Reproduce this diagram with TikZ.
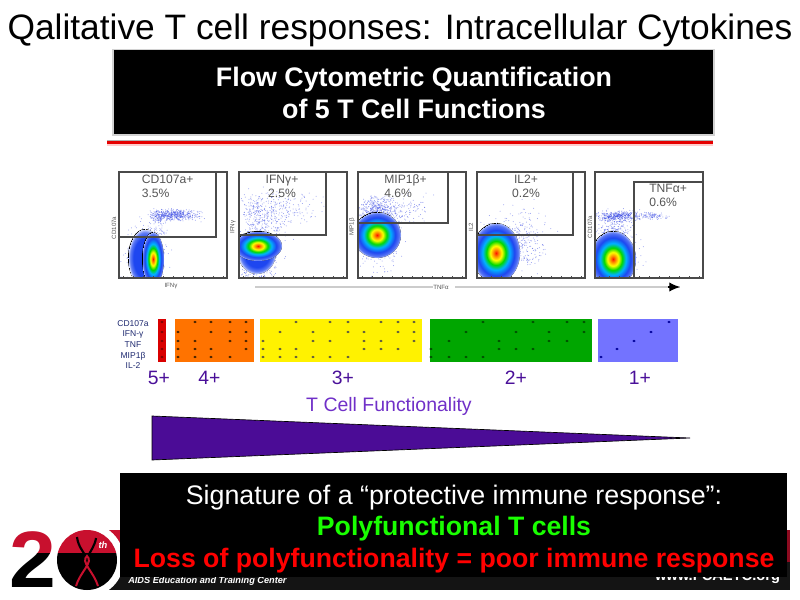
\documentclass[tikz,border=0pt]{standalone}
\usepackage{fontspec}
\setmainfont{Liberation Sans}
\usetikzlibrary{arrows.meta}
\definecolor{plotline}{HTML}{4A4A4A}
\definecolor{plottext}{HTML}{555555}
\definecolor{dotblue}{HTML}{2A3CE0}
\definecolor{rowtext}{HTML}{1F2A70}
\definecolor{plustext}{HTML}{4A1099}
\definecolor{functext}{HTML}{7030C8}
\definecolor{wedgefill}{HTML}{4B0C96}
\definecolor{logored}{HTML}{C8102E}
\definecolor{jetblue}{HTML}{1E46F0}
\pgfdeclareradialshading{jetblob}{\pgfpointorigin}{
  color(0bp)=(red!85!orange); color(2.5bp)=(orange); color(6bp)=(yellow);
  color(10bp)=(green!85!black); color(14bp)=(cyan!70!blue);
  color(19bp)=(jetblue); color(23bp)=(jetblue!75!white); color(25bp)=(jetblue!35!white)}
\pgfdeclareradialshading{blueblob}{\pgfpointorigin}{
  color(0bp)=(jetblue); color(17bp)=(jetblue); color(22bp)=(jetblue!70!white); color(25bp)=(jetblue!15!white)}
\tikzset{
  plotframe/.style = {draw=plotline,line width=0.9pt},
  gatebox/.style = {draw=plotline,line width=0.9pt},
  plotlabel/.style = {text=plottext,font=\fontsize{9.1}{10.5}\selectfont,align=left,anchor=north west,inner sep=0},
  axislabel/.style = {text=plottext,font=\fontsize{4.6}{5}\selectfont,inner sep=0},
  rowlabel/.style = {text=rowtext,font=\fontsize{6.4}{7}\selectfont,inner sep=0},
  pluslabel/.style = {text=plustext,font=\fontsize{14.5}{16}\selectfont,inner sep=0},
  cell/.style = {fill=#1,draw=none},
  blackbox/.style = {fill=black,draw=none}
}
\tikzset{>=latex}
% density scatter: centre x, centre y, spread x, spread y, count
\newcommand{\cloud}[5]{
  \foreach \i in {1,...,#5}{
    \pgfmathsetmacro{\px}{#1+#3*(rnd+rnd+rnd-1.5)}
    \pgfmathsetmacro{\py}{#2+#4*(rnd+rnd+rnd-1.5)}
    \fill[dotblue,opacity=0.5] (\px,\py) circle (0.5);
  }
}
% one block of the function bar: dot colour, then rows as y/{x,x,...}
\newcommand{\cellrows}[2]{
  \foreach \y/\xs in {#2}{
    \foreach \x in \xs {
      \fill[#1] (\x,\y) ellipse (1.7 and 1.2);
    }
  }
}
\begin{document}
\begin{tikzpicture}[x=0.75pt,y=-0.75pt]
  \useasboundingbox (0,0) rectangle (800,600);
  \pgfmathsetseed{4211}
  % title
  \node[inner sep=0,font=\fontsize{26.5}{30}\selectfont] (title) at (400,30.5) {Qalitative T cell responses: Intracellular Cytokines};
  % header box
  \fill[gray!35] (112,49) rectangle (715,136);
  \fill[blackbox] (114,50) rectangle (713,134);
  \node[inner sep=0,text=white,align=center,font=\fontsize{20.1}{23.5}\selectfont\bfseries] (header) at (414,93) {Flow Cytometric Quantification\\of 5 T Cell Functions};
  \fill[red!20] (107,140) rectangle (713,146);
  \fill[gray!60] (107,139.5) rectangle (713,141);
  \fill[red!90!black] (107,141) rectangle (713,144);
  % panel 1
  \begin{scope}
    \clip (119,172) rectangle (227,278);
    \cloud{175}{215}{24}{5}{420}
    \cloud{160}{217}{10}{7}{120}
    \cloud{155}{232}{10}{7}{50}
    \cloud{146}{256}{19}{26}{350}
    \fill[shading=blueblob,draw=none] (145,258) ellipse (17 and 29);
    \fill[shading=jetblob,draw=none] (153,259) ellipse (11 and 27);
  \end{scope}
  % panel 2
  \begin{scope}
    \clip (239,172) rectangle (347,278);
    \cloud{262}{216}{22}{24}{380}
    \cloud{290}{208}{25}{14}{110}
    \cloud{258}{258}{20}{26}{420}
    \fill[shading=blueblob,draw=none] (257,253) ellipse (19 and 21);
    \fill[shading=jetblob,draw=none] (258,246) ellipse (24 and 15);
  \end{scope}
  % panel 3
  \begin{scope}
    \clip (358,172) rectangle (466,278);
    \cloud{378}{212}{19}{14}{520}
    \cloud{405}{207}{22}{12}{90}
    \cloud{377}{240}{24}{30}{320}
    \fill[shading=jetblob,draw=none] (377,235) ellipse (24 and 23);
  \end{scope}
  % panel 4
  \begin{scope}
    \clip (477,172) rectangle (585,278);
    \cloud{520}{232}{30}{26}{170}
    \cloud{527}{250}{16}{18}{100}
    \cloud{494}{252}{24}{32}{260}
    \fill[shading=jetblob,draw=none] (496,253) ellipse (24 and 30);
  \end{scope}
  % panel 5
  \begin{scope}
    \clip (595,172) rectangle (703,278);
    \cloud{618}{216}{20}{5}{380}
    \cloud{650}{216}{17}{4}{110}
    \cloud{614}{232}{18}{18}{260}
    \cloud{614}{258}{24}{28}{260}
    \fill[shading=jetblob,draw=none] (613,259) ellipse (23 and 28);
  \end{scope}
  % frames and gates
  \foreach \xa/\xb in {119/227,239/347,358/466,477/585,595/703}{
    \draw[plotframe] (\xa,172) rectangle (\xb,278);
    \foreach \t in {4,14,...,104}{
      \draw[plotline,line width=0.4pt] (\xa+\t,278) -- (\xa+\t,276);
    }
  }
  \draw[gatebox] (119,172) rectangle (216,237);
  \draw[gatebox] (239,172) rectangle (326,235);
  \draw[gatebox] (358,172) rectangle (448,223);
  \draw[gatebox] (477,172) rectangle (573,235);
  \draw[gatebox] (634,278) rectangle (703,182);
  % gate labels
  \node[plotlabel] (cdlabel) at (141.5,174.5) {CD107a+\\3.5\%};
  \node[plotlabel,align=center,anchor=north] (ifnlabel) at (282,174.5) {IFNγ+\\2.5\%};
  \node[plotlabel] (miplabel) at (384,174.5) {MIP1β+\\4.6\%};
  \node[plotlabel,align=center,anchor=north] (illabel) at (526,174.5) {IL2+\\0.2\%};
  \node[plotlabel] (tnflabel) at (649,183.5) {TNFα+\\0.6\%};
  % axis labels
  \node[axislabel,rotate=90] (ycd) at (114,228) {CD107a};
  \node[axislabel] (xifn) at (171,286) {IFNγ};
  \node[axislabel,rotate=90] (yifn) at (233,227) {IFNγ};
  \node[axislabel,rotate=90] (ymip) at (352,227) {MIP1β};
  \node[axislabel,rotate=90] (yil) at (471,227) {IL2};
  \node[axislabel,rotate=90] (ycdb) at (590,227) {CD107a};
  % TNF axis
  \coordinate (axisstart) at (255,287);
  \coordinate (axismid) at (455,287);
  \coordinate (axisend) at (680,287);
  \node[axislabel] (xtnf) at (441,287) {TNFα};
  \draw[gray!40,line width=0.9pt] (axisstart) -- (xtnf);
  \draw[gray!40,line width=0.9pt] (axismid) -- (axisend);
  \draw[-{Latex[length=8pt,width=7pt]},line width=0.9pt] (668,287) -- (axisend);
  % function bar
  \fill[cell=red!85!black] (158,319) rectangle (166,362);
  \fill[cell=orange!90!red] (175,319) rectangle (254,362);
  \fill[cell=yellow] (260,319) rectangle (422,362);
  \fill[cell=green!65!black] (430,319) rectangle (592,362);
  \fill[cell=blue!55!white] (598,319) rectangle (678,362);
  \cellrows{red!50!black}{322/{162},332/{162},341/{162},349/{162},357/{162}}
  \cellrows{black!75!orange}{322/{195,211,230,246},332/{178,211,230,246},341/{178,195,230,246},349/{178,195,211,246},357/{178,195,211,230}}
  \cellrows{black!75!yellow}{322/{296,330,348,381,398,414},332/{280,313,348,364,398,414},341/{263,313,330,364,381,414},349/{263,280,296,364,381,398},357/{263,280,296,313,330,348}}
  \cellrows{black!70!green}{322/{483,533,567,584},332/{466,516,549,584},341/{449,499,549,567},349/{431,499,516,533},357/{431,449,466,483}}
  \cellrows{blue!60!black}{322/{669},332/{651},341/{634},349/{617},357/{601}}
  % bar rows
  \node[rowlabel] (rowa) at (133,323.5) {CD107a};
  \node[rowlabel] (rowb) at (133,334) {IFN-γ};
  \node[rowlabel] (rowc) at (133,344.5) {TNF};
  \node[rowlabel] (rowd) at (133,356) {MIP1β};
  \node[rowlabel] (rowe) at (133,366) {IL-2};
  \node[pluslabel] (fivep) at (159,378) {5+};
  \node[pluslabel] (fourp) at (209.5,378) {4+};
  \node[pluslabel] (threep) at (343,378) {3+};
  \node[pluslabel] (twop) at (516,378) {2+};
  \node[pluslabel] (onep) at (640,378) {1+};
  \node[inner sep=0,text=functext,font=\fontsize{14.6}{16}\selectfont] (functionality) at (389,406.5) {T Cell Functionality};
  % wedge
  \draw[fill=wedgefill,draw=black,line width=0.5pt] (152,416) -- (152,460) -- (690,438) -- cycle;
  % logo band
  \fill[logored!70!black] (100,530) rectangle (790,562);
  \fill[logored] (100,530) rectangle (700,553);
  \fill[black!92] (100,553) rectangle (787,590);
  \fill[black!92] (787,562) rectangle (790,590);
  \node[inner sep=0,text=white,font=\fontsize{6.9}{8}\selectfont\bfseries\itshape,anchor=west] (aetc) at (128,581) {AIDS Education and Training Center};
  \node[inner sep=0,text=white,font=\fontsize{11}{12}\selectfont\bfseries] (website) at (717.5,577) {www.FCAETC.org};
  % logo
  \fill[white] (87,560) circle (37);
  \begin{scope}
    \clip (87,560) circle (30);
    \fill[logored] (50,525) rectangle (125,553);
    \fill[black] (50,553) rectangle (125,595);
  \end{scope}
  \draw[black,line width=1.6pt] (77,537) .. controls (78,546) and (83,551) .. (86,557);
  \draw[black,line width=1.6pt] (96,538) .. controls (95,546) and (90,551) .. (88,557);
  \draw[logored,line width=1.5pt] (76,586) .. controls (80,572) and (94,562) .. (87,556) .. controls (80,562) and (94,572) .. (98,586);
  \node[inner sep=0,text=white,font=\fontsize{7}{8}\selectfont\bfseries\itshape] (thlabel) at (103,545) {th};
  \begin{scope}
    \clip (0,520) rectangle (80,553);
    \node[inner sep=0,text=logored,xscale=1.05,font=\fontsize{60}{60}\selectfont\bfseries] (digittop) at (33,560) {2};
  \end{scope}
  \begin{scope}
    \clip (0,553) rectangle (80,600);
    \node[inner sep=0,text=black,xscale=1.05,font=\fontsize{60}{60}\selectfont\bfseries] (digitbottom) at (33,560) {2};
  \end{scope}
  % summary box
  \fill[blackbox] (120,473) rectangle (787,577);
  \node[inner sep=0,text=white,font=\fontsize{20.1}{22}\selectfont] (signature) at (454,497.5) {Signature of a “protective immune response”:};
  \node[inner sep=0,text=green!90!yellow,font=\fontsize{20}{22}\selectfont\bfseries] (poly) at (454,528.5) {Polyfunctional T cells};
  \node[inner sep=0,text=red,font=\fontsize{20}{22}\selectfont\bfseries] (loss) at (454,560.5) {Loss of polyfunctionality = poor immune response};
\end{tikzpicture}
\end{document}
